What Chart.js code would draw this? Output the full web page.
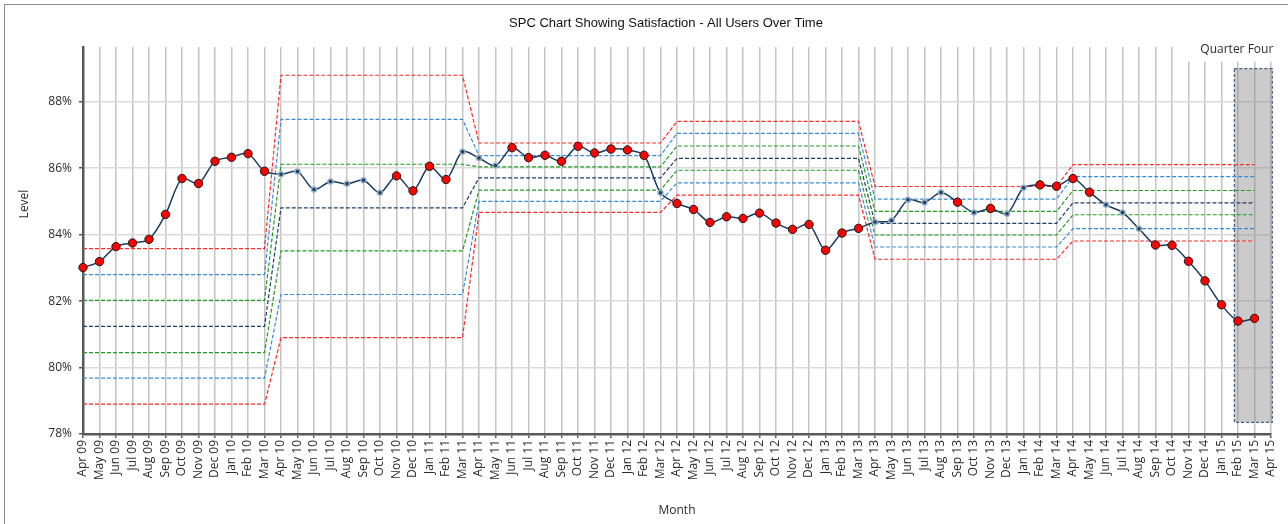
<!DOCTYPE html>
<html>
<head>
<meta charset="utf-8">
<script src="https://cdn.jsdelivr.net/npm/chart.js@4.4.1/dist/chart.umd.min.js"></script>
<style>
  html, body { margin: 0; padding: 0; background: #fff; }
</style>
</head>
<body>
<canvas id="spc" width="1288" height="524"></canvas>
<script>
const months = [
  'Apr 09','May 09','Jun 09','Jul 09','Aug 09','Sep 09','Oct 09','Nov 09','Dec 09','Jan 10','Feb 10','Mar 10',
  'Apr 10','May 10','Jun 10','Jul 10','Aug 10','Sep 10','Oct 10','Nov 10','Dec 10','Jan 11','Feb 11','Mar 11',
  'Apr 11','May 11','Jun 11','Jul 11','Aug 11','Sep 11','Oct 11','Nov 11','Dec 11','Jan 12','Feb 12','Mar 12',
  'Apr 12','May 12','Jun 12','Jul 12','Aug 12','Sep 12','Oct 12','Nov 12','Dec 12','Jan 13','Feb 13','Mar 13',
  'Apr 13','May 13','Jun 13','Jul 13','Aug 13','Sep 13','Oct 13','Nov 13','Dec 13','Jan 14','Feb 14','Mar 14',
  'Apr 14','May 14','Jun 14','Jul 14','Aug 14','Sep 14','Oct 14','Nov 14','Dec 14','Jan 15','Feb 15','Mar 15',
  'Apr 15'
];

// monthly satisfaction level (%)
const level = [
  83.01, 83.19, 83.64, 83.75, 83.86, 84.61, 85.69, 85.54, 86.21, 86.33, 86.44, 85.91,
  85.82, 85.90, 85.36, 85.60, 85.53, 85.64, 85.26, 85.77, 85.32, 86.06, 85.66, 86.50,
  86.31, 86.08, 86.62, 86.32, 86.39, 86.21, 86.66, 86.46, 86.58, 86.55, 86.39, 85.26,
  84.94, 84.76, 84.37, 84.54, 84.49, 84.65, 84.35, 84.16, 84.31, 83.53, 84.05, 84.19,
  84.38, 84.43, 85.05, 84.97, 85.27, 84.98, 84.67, 84.79, 84.63, 85.41, 85.50, 85.46,
  85.69, 85.28, 84.90, 84.67, 84.18, 83.69, 83.68, 83.20, 82.61, 81.89, 81.40, 81.48,
  null
];

// 1 = point flagged by an SPC rule (red marker)
const signal = [
  1,1,1,1,1,1,1,1,1,1,1,1,
  0,0,0,0,0,0,0,1,1,1,1,0,
  0,0,1,1,1,1,1,1,1,1,1,0,
  1,1,1,1,1,1,1,1,1,1,1,1,
  0,0,0,0,0,1,0,1,0,0,1,1,
  1,1,0,0,0,1,1,1,1,1,1,1
];

// control limits per 12-month period
const periodLength = [12, 12, 12, 12, 12, 12];
const ucl    = [83.58, 88.80, 86.76, 87.41, 85.45, 86.11];
const plus2  = [82.80, 87.47, 86.38, 87.05, 85.07, 85.75];
const plus1  = [82.02, 86.12, 86.04, 86.67, 84.70, 85.33];
const centre = [81.24, 84.81, 85.71, 86.30, 84.34, 84.96];
const minus1 = [80.45, 83.51, 85.34, 85.94, 83.99, 84.60];
const minus2 = [79.68, 82.20, 85.00, 85.56, 83.63, 84.18];
const lcl    = [78.90, 80.90, 84.67, 85.19, 83.26, 83.81];

const levelTicks = [78, 80, 82, 84, 86, 88];
const quarterFour = ['Feb 15', 'Apr 15'];
const quarterLevels = [78.35, 89.0];

function stepSeries(values) {
  const out = [];
  values.forEach((v, p) => {
    for (let k = 0; k < periodLength[p]; k++) out.push(v);
  });
  while (out.length < months.length) out.push(null);
  return out;
}

function limitLine(values, colour) {
  return {
    data: stepSeries(values),
    borderColor: colour,
    borderWidth: 1.2,
    borderDash: [4, 2],
    pointRadius: 0,
    tension: 0,
    fill: false
  };
}

const RED = '#ff2a2a', BLUE = '#3b8bd8', GREEN = '#239a23', NAVY = '#1f3f66';
const TEXT = '#2b2b2b';

const decor = {
  id: 'decor',
  beforeDatasetsDraw(chart) {
    const {ctx, chartArea, scales: {x, y}} = chart;
    const x0 = x.getPixelForValue(months.indexOf(quarterFour[0]) - 0.22);
    const x1 = x.getPixelForValue(months.indexOf(quarterFour[1]) + 0.08);
    const y0 = y.getPixelForValue(quarterLevels[1]);
    const y1 = y.getPixelForValue(quarterLevels[0]);
    ctx.save();
    ctx.fillStyle = 'rgba(130,130,130,0.42)';
    ctx.fillRect(x0, y0, x1 - x0, y1 - y0);
    ctx.strokeStyle = '#44607f';
    ctx.lineWidth = 1.2;
    ctx.setLineDash([3, 2]);
    ctx.strokeRect(x0, y0, x1 - x0, y1 - y0);
    ctx.setLineDash([]);

    // label for the shaded quarter
    ctx.font = '12px "Open Sans"';
    const w = ctx.measureText('Quarter Four').width;
    ctx.fillStyle = '#fff';
    ctx.fillRect(x1 - w - 20, chartArea.top - 2, chart.width - (x1 - w - 20), y0 - 7 - chartArea.top + 2);
    ctx.fillStyle = TEXT;
    ctx.textAlign = 'right';
    ctx.textBaseline = 'alphabetic';
    ctx.fillText('Quarter Four', x1 + 1, y0 - 16);
    ctx.restore();
  },
  afterDraw(chart) {
    const {ctx} = chart;
    ctx.save();
    ctx.strokeStyle = '#8c8c8c';
    ctx.lineWidth = 1;
    ctx.strokeRect(4.5, 4.5, chart.width + 20, chart.height + 20);

    ctx.fillStyle = '#111';
    ctx.font = '13px "Liberation Sans"';
    ctx.textAlign = 'center';
    ctx.textBaseline = 'middle';
    ctx.fillText('SPC Chart Showing Satisfaction - All Users Over Time', chart.width / 2 + 22, 23);

    ctx.fillStyle = TEXT;
    ctx.font = '12px "Open Sans"';
    ctx.translate(25, 204);
    ctx.rotate(-Math.PI / 2);
    ctx.fillText('Level', 0, 0);
    ctx.restore();
  }
};

new Chart(document.getElementById('spc'), {
  type: 'line',
  data: {
    labels: months,
    datasets: [
      {
        data: level,
        borderColor: '#183b5e',
        borderWidth: 1.5,
        tension: 0.3,
        pointRadius: signal.map(s => s ? 4.2 : 2.5),
        pointBackgroundColor: signal.map(s => s ? '#ff0000' : '#1f3f5f'),
        pointBorderColor: signal.map(s => s ? '#1a1a1a' : 'rgba(150,175,200,0.95)'),
        pointBorderWidth: signal.map(s => s ? 1 : 1.5),
        fill: false
      },
      limitLine(ucl, RED),
      limitLine(plus2, BLUE),
      limitLine(plus1, GREEN),
      limitLine(centre, NAVY),
      limitLine(minus1, GREEN),
      limitLine(minus2, BLUE),
      limitLine(lcl, RED)
    ]
  },
  options: {
    responsive: false,
    animation: false,
    layout: { padding: { left: 10, right: 17, top: 47, bottom: 4 } },
    plugins: {
      legend: { display: false },
      title: { display: false },
      tooltip: { enabled: false }
    },
    scales: {
      x: {
        grid: { color: '#c4c4c4', lineWidth: 1.5, tickColor: '#595959', tickLength: 4, tickWidth: 1.5 },
        border: { color: '#595959', width: 2.5 },
        ticks: {
          autoSkip: false, minRotation: 90, maxRotation: 90, padding: 2,
          color: TEXT, font: { family: 'Open Sans', size: 12 }
        },
        title: {
          display: true, text: 'Month', color: TEXT,
          font: { family: 'Open Sans', size: 12 }, padding: { top: 0, bottom: 2 }
        },
        afterFit(axis) {
          axis.height = 86;
          axis.paddingLeft = 0;
          axis.paddingRight = 0;
        }
      },
      y: {
        min: 78,
        max: 89.65,
        grid: { color: '#dadada', lineWidth: 1.5, tickColor: '#595959', tickLength: 4, tickWidth: 1.5 },
        border: { color: '#595959', width: 2.5 },
        ticks: {
          padding: 7, color: TEXT, font: { family: 'Open Sans', size: 12 },
          callback: v => v + '%'
        },
        afterBuildTicks(axis) {
          axis.ticks = levelTicks.map(v => ({ value: v }));
        },
        afterFit(axis) {
          axis.width = 73;
          axis.paddingTop = 0;
          axis.paddingBottom = 0;
        }
      }
    }
  },
  plugins: [decor]
});
</script>
</body>
</html>
